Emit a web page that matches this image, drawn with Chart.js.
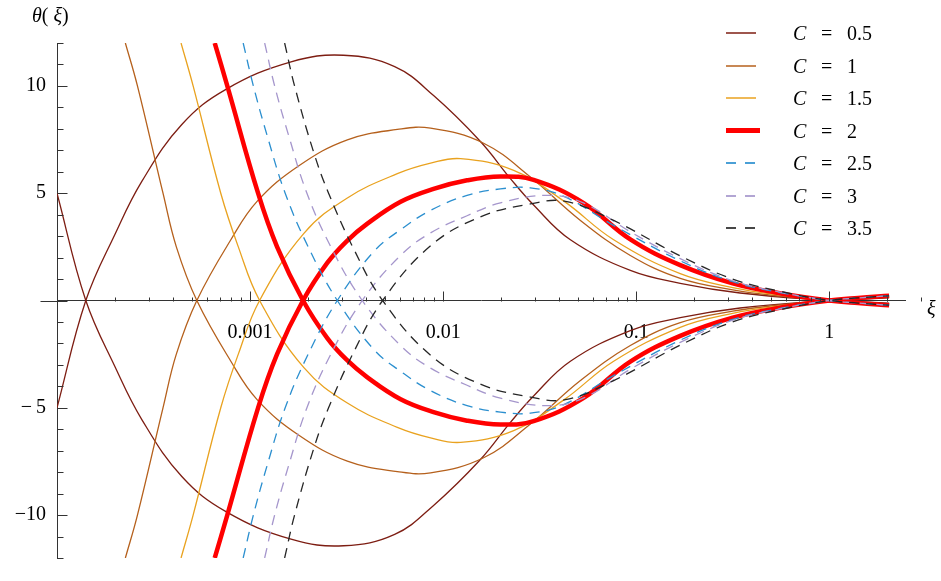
<!DOCTYPE html>
<html>
<head>
<meta charset="utf-8">
<script src="https://cdn.jsdelivr.net/npm/chart.js@4.4.1/dist/chart.umd.min.js"></script>
<style>
  body { margin: 0; background: #fff; }
  #wrap { position: relative; width: 941px; height: 581px; font-family: "Liberation Serif", "Times New Roman", Times, "DejaVu Serif", serif; color: #000; }
  #chart { position: absolute; left: 0; top: 0; }
  .lbl { position: absolute; font-size: 20px; line-height: 20px; white-space: nowrap; }
  .sw { position: absolute; }
</style>
</head>
<body>
<div id="wrap">
  <canvas id="chart" width="941" height="581"></canvas>
  <div class="lbl" style="left:32px; top:5px;"><i>θ</i>(&nbsp;<i>ξ</i>)</div>
  <div class="lbl" style="left:927px; top:298px;"><i>ξ</i></div>
  <div id="legend"></div>
</div>
<script>
// values; each C has an upper (positive hump) and a lower (mirror) branch
const cValues = ['0.5', '1', '1.5', '2', '2.5', '3', '3.5'];

const xiC05 = [1e-4, 1.41e-4, 2.00e-4, 2.75e-4, 4.43e-4, 7.54e-4, 1.63e-3, 3.05e-3, 5.61e-3, 8.92e-3, 1.56e-2, 2.23e-2, 2.94e-2, 4.56e-2, 9.32e-2, 1.69e-1, 3.45e-1, 1, 1.41, 2.04];
const upC05 = [-5.0, 0, 3.1, 5.55, 8.2, 9.85, 11.12, 11.43, 10.9, 9.55, 7.41, 5.68, 4.45, 2.83, 1.4, 0.8, 0.35, 0, -0.05, -0.12];
const loC05 = [5.0, 0, -3.1, -5.55, -8.2, -9.85, -11.12, -11.43, -10.9, -9.55, -7.41, -5.68, -4.45, -2.83, -1.4, -0.8, -0.35, 0, 0.05, 0.12];

const xiC1 = [2.26e-4, 2.61e-4, 3.54e-4, 4.15e-4, 5.30e-4, 7.95e-4, 1.09e-3, 1.79e-3, 3.19e-3, 5.79e-3, 8.61e-3, 1.62e-2, 2.83e-2, 5.14e-2, 9.32e-2, 1.69e-1, 3.16e-1, 5.62e-1, 1, 1.41, 2.04];
const upC1 = [-12, -10, -5, -2.5, 0, 2.83, 4.63, 6.28, 7.49, 7.97, 8.03, 7.33, 5.76, 3.73, 2.1, 1.03, 0.5, 0.2, 0, -0.08, -0.16];
const loC1 = [12, 10, 5, 2.5, 0, -2.83, -4.63, -6.28, -7.49, -7.97, -8.03, -7.33, -5.76, -3.73, -2.1, -1.03, -0.5, -0.2, 0, 0.08, 0.16];

const xiC15 = [4.39e-4, 5.07e-4, 7.05e-4, 8.69e-4, 1.12e-3, 1.90e-3, 3.19e-3, 5.79e-3, 8.61e-3, 1.23e-2, 2.32e-2, 4.22e-2, 7.64e-2, 1.69e-1, 3.16e-1, 5.62e-1, 1, 1.41, 2.04];
const upC15 = [-12, -10, -5, -2.5, 0, 3.13, 4.78, 5.91, 6.4, 6.61, 6.06, 4.63, 2.83, 1.25, 0.6, 0.25, 0, -0.1, -0.2];
const loC15 = [12, 10, 5, 2.5, 0, -3.13, -4.78, -5.91, -6.4, -6.61, -6.06, -4.63, -2.83, -1.25, -0.6, -0.25, 0, 0.1, 0.2];

const xiC2 = [6.56e-4, 7.62e-4, 1.10e-3, 1.38e-3, 1.88e-3, 2.51e-3, 3.16e-3, 4.05e-3, 6.02e-3, 8.92e-3, 1.33e-2, 1.98e-2, 2.94e-2, 5.32e-2, 9.32e-2, 1.69e-1, 3.16e-1, 5.62e-1, 1, 1.41, 2.04];
const upC2 = [-12, -10, -5, -2.5, 0, 1.75, 2.76, 3.58, 4.6, 5.2, 5.6, 5.78, 5.62, 4.55, 2.85, 1.65, 0.8, 0.33, 0, -0.12, -0.22];
const loC2 = [12, 10, 5, 2.5, 0, -1.75, -2.76, -3.58, -4.6, -5.2, -5.6, -5.78, -5.62, -4.55, -2.85, -1.65, -0.8, -0.33, 0, 0.12, 0.22];

const xiC25 = [9.21e-4, 1.04e-3, 1.23e-3, 1.52e-3, 2.00e-3, 2.83e-3, 4.39e-3, 6.02e-3, 8.61e-3, 1.33e-2, 1.98e-2, 2.83e-2, 4.22e-2, 7.64e-2, 1.69e-1, 3.16e-1, 5.62e-1, 1, 1.41, 2.04];
const upC25 = [-12, -10, -7.64, -5, -2.5, 0, 2.3, 3.3, 4.2, 4.9, 5.2, 5.25, 4.85, 3.5, 1.85, 0.88, 0.36, 0, -0.12, -0.22];
const loC25 = [12, 10, 7.64, 5, 2.5, 0, -2.3, -3.3, -4.2, -4.9, -5.2, -5.25, -4.85, -3.5, -1.85, -0.88, -0.36, 0, 0.12, 0.22];

const xiC3 = [1.19e-3, 1.34e-3, 1.59e-3, 1.97e-3, 2.62e-3, 3.81e-3, 6.02e-3, 8.61e-3, 1.33e-2, 1.98e-2, 3.46e-2, 5.32e-2, 9.32e-2, 1.69e-1, 3.16e-1, 5.62e-1, 1, 1.41, 2.04];
const upC3 = [-12, -10, -7.64, -5, -2.5, 0, 2.1, 3.15, 3.95, 4.55, 4.9, 4.55, 3.2, 1.95, 0.92, 0.38, 0, -0.12, -0.22];
const loC3 = [12, 10, 7.64, 5, 2.5, 0, -2.1, -3.15, -3.95, -4.55, -4.9, -4.55, -3.2, -1.95, -0.92, -0.38, 0, 0.12, 0.22];

const xiC35 = [1.51e-3, 1.70e-3, 2.14e-3, 2.55e-3, 3.40e-3, 4.86e-3, 8.61e-3, 1.56e-2, 2.83e-2, 4.30e-2, 7.64e-2, 1.69e-1, 3.16e-1, 5.62e-1, 1, 1.41, 2.04];
const upC35 = [-12, -10, -6.88, -5, -2.5, 0, 2.55, 3.9, 4.5, 4.62, 3.73, 2.08, 1.0, 0.42, 0, -0.12, -0.22];
const loC35 = [12, 10, 6.88, 5, 2.5, 0, -2.55, -3.9, -4.5, -4.62, -3.73, -2.08, -1.0, -0.42, 0, 0.12, 0.22];

// axis ticks
const xLabelValues = [0.001, 0.01, 0.1, 1];
const xLabelText = ['0.001', '0.01', '0.1', '1'];
const yLabelValues = [-10, -5, 5, 10];
const yLabelText = ['\u221210', '\u2212\u20095', '5', '10'];

// styles
const lineColors = ['#7d1d12', '#b5601c', '#e9a21f', '#ff0000', '#2b8fcf', '#a596cc', '#262626'];
const lineWidths = [1.3, 1.3, 1.3, 4.5, 1.3, 1.3, 1.3];
const lineDashes = [[], [], [], [], [10, 7], [10, 7], [10, 7]];
const serif = '"Liberation Serif", "Times New Roman", Times, "DejaVu Serif", serif';

const curves = [
  [xiC05, upC05, loC05], [xiC1, upC1, loC1], [xiC15, upC15, loC15], [xiC2, upC2, loC2],
  [xiC25, upC25, loC25], [xiC3, upC3, loC3], [xiC35, upC35, loC35]
];

const xTickValues = [];
for (let e = -4; e <= 0; e++) {
  for (let k = 1; k <= 9; k++) xTickValues.push(k * Math.pow(10, e));
}
xTickValues.push(2);

const datasets = [];
curves.forEach((cv, k) => {
  [cv[1], cv[2]].forEach(vals => {
    datasets.push({
      label: 'C = ' + cValues[k],
      data: cv[0].map((x, j) => ({ x: x, y: vals[j] })),
      borderColor: lineColors[k],
      borderWidth: lineWidths[k],
      borderDash: lineDashes[k],
      pointRadius: 0,
      tension: 0.4,
      fill: false,
      order: curves.length - k
    });
  });
});

// tick marks point inwards, as in the original
const tickMarks = {
  id: 'tickMarks',
  afterDraw(chart) {
    const { ctx, chartArea, scales } = chart;
    const y0 = Math.round(scales.y.getPixelForValue(0)) + 0.5;
    const x0 = Math.round(chartArea.left) + 0.5;
    ctx.save();
    ctx.strokeStyle = '#333';
    ctx.lineWidth = 1;
    ctx.beginPath();
    ctx.moveTo(x0 - 17, y0);
    ctx.lineTo(x0, y0);
    scales.y.ticks.forEach(t => {
      const py = Math.round(scales.y.getPixelForValue(t.value)) + 0.5;
      const len = t.value % 5 === 0 ? 10 : 6;
      ctx.moveTo(x0, py);
      ctx.lineTo(x0 + len, py);
    });
    xTickValues.forEach(v => {
      const px = Math.round(scales.x.getPixelForValue(v)) + 0.5;
      const major = Math.abs(Math.log10(v) - Math.round(Math.log10(v))) < 1e-9;
      ctx.moveTo(px, y0);
      ctx.lineTo(px, y0 - (major ? 10 : 4));
    });
    ctx.stroke();
    ctx.restore();
  }
};

const tickFont = { family: serif, size: 20 };

new Chart(document.getElementById('chart'), {
  type: 'line',
  data: { datasets: datasets },
  options: {
    responsive: false,
    animation: false,
    events: [],
    layout: { padding: { left: 0, top: 43, right: 36, bottom: 5 } },
    plugins: { legend: { display: false }, tooltip: { enabled: false } },
    scales: {
      x: {
        type: 'logarithmic',
        min: 1e-4,
        max: 2.466,
        position: { y: 0 },
        grid: { display: false, drawTicks: false },
        border: { display: true, color: '#333', width: 1 },
        afterBuildTicks: s => { s.ticks = xTickValues.map(v => ({ value: v })); },
        afterFit: s => { s.height = 0; },
        ticks: {
          autoSkip: false,
          maxRotation: 0,
          padding: 20,
          color: '#000',
          font: tickFont,
          callback: v => {
            const i = xLabelValues.findIndex(l => Math.abs(l - v) / l < 1e-6);
            return i >= 0 ? xLabelText[i] : '';
          }
        }
      },
      y: {
        type: 'linear',
        min: -12,
        max: 12,
        position: 'left',
        grid: { display: false, drawTicks: false },
        border: { display: true, color: '#333', width: 1 },
        afterFit: s => { s.width = 57; },
        ticks: {
          stepSize: 1,
          autoSkip: false,
          padding: 11,
          color: '#000',
          font: tickFont,
          callback: v => {
            const i = yLabelValues.indexOf(v);
            return i >= 0 ? yLabelText[i] : '';
          }
        }
      }
    }
  },
  plugins: [tickMarks]
});

// legend
const legend = document.getElementById('legend');
cValues.forEach((c, i) => {
  const cy = 33 + i * 32.5;
  const sw = document.createElement('div');
  sw.className = 'sw';
  const h = lineWidths[i] > 2 ? 5 : 2;
  sw.style.left = '726px';
  sw.style.width = (lineWidths[i] > 2 ? 34 : 30) + 'px';
  sw.style.height = h + 'px';
  sw.style.top = (cy - h / 2) + 'px';
  if (lineDashes[i].length) {
    sw.style.background = 'repeating-linear-gradient(to right, ' + lineColors[i] + ' 0 10.5px, transparent 10.5px 19px)';
    sw.style.opacity = '0.85';
  } else {
    sw.style.background = lineColors[i];
    if (h < 3) sw.style.opacity = '0.75';
  }
  legend.appendChild(sw);
  const parts = [['<i>C</i>', 793], ['=', 821], [c, 847]];
  parts.forEach(p => {
    const t = document.createElement('div');
    t.className = 'lbl';
    t.innerHTML = p[0];
    t.style.left = p[1] + 'px';
    t.style.top = (cy - 10) + 'px';
    legend.appendChild(t);
  });
});
</script>
</body>
</html>
